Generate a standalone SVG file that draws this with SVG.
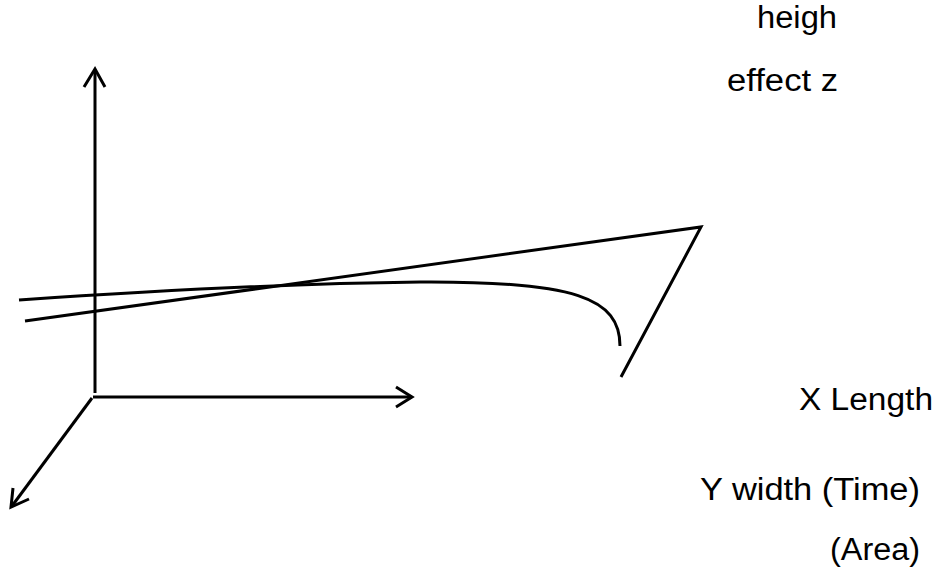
<svg xmlns="http://www.w3.org/2000/svg" width="939" height="575" viewBox="0 0 939 575">
<style>
.ln{fill:none;stroke:#000;stroke-width:3;stroke-linecap:butt;stroke-linejoin:miter}
.t{font-family:"Liberation Sans",Arial,sans-serif;font-size:31px;fill:#000}
</style>
<rect width="939" height="575" fill="#fff"/>
<g id="connectors">
<path class="ln" d="M95,393 L95,70"/>
<path class="ln" d="M84,87 L95,69 L105,87"/>
<path class="ln" d="M93,397 L412,397"/>
<path class="ln" d="M396,387 L412,397 L396,407"/>
<path class="ln" d="M92,398 L12,506"/>
<path class="ln" d="M13,488 L11,507 L29,499"/>
<path class="ln" d="M19,300 Q250,284 420,282 C575,281 620,298 620,346"/>
<path class="ln" d="M25,321 L701,227 L621,377"/>
</g>
<g id="label-heigh"><text class="t" x="757" y="28" textLength="80" lengthAdjust="spacingAndGlyphs">heigh</text></g>
<g id="label-effect"><text class="t" x="727" y="91" textLength="111" lengthAdjust="spacingAndGlyphs">effect z</text></g>
<g id="label-x"><text class="t" x="799" y="410" textLength="134" lengthAdjust="spacingAndGlyphs">X Length</text></g>
<g id="label-y"><text class="t" x="700" y="500" textLength="220" lengthAdjust="spacingAndGlyphs">Y width (Time)</text></g>
<g id="label-area"><text class="t" x="830" y="560" textLength="90" lengthAdjust="spacingAndGlyphs">(Area)</text></g>
</svg>
